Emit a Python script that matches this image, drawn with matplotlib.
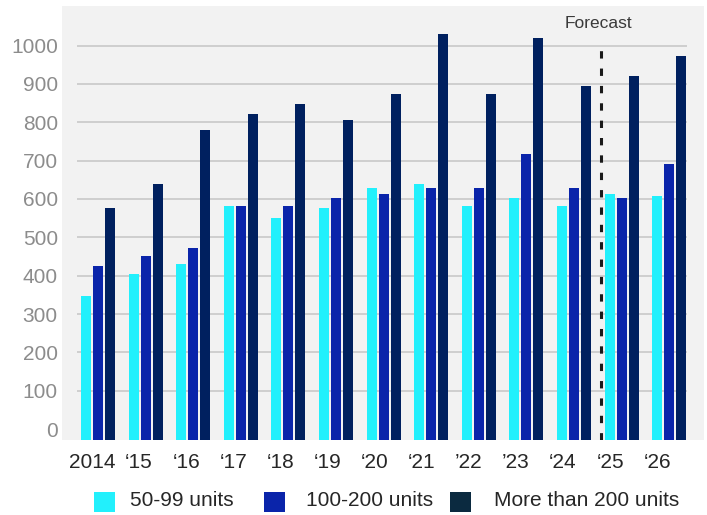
import matplotlib
matplotlib.use("Agg")
import matplotlib.pyplot as plt
from matplotlib.patches import Rectangle
import numpy as np

plt.rcParams['font.family'] = ['Liberation Sans', 'DejaVu Sans']
plt.rcParams['lines.scale_dashes'] = False

# Data
years = ["2014", "\u201815", "\u201816", "\u201817", "\u201818", "\u201819", "\u201820",
         "\u201821", "\u201922", "\u201923", "\u201824", "\u201825", "\u201826"]
units_50_99 = [347, 404, 430, 582, 550, 577, 629, 639, 582, 603, 582, 613, 608]
units_100_200 = [425, 451, 472, 582, 582, 603, 613, 629, 629, 717, 629, 603, 691]
units_200_plus = [577, 639, 780, 822, 848, 806, 874, 1030, 874, 1020, 895, 921, 973]
series_labels = ["50-99 units", "100-200 units", "More than 200 units"]
y_ticks = list(range(0, 1001, 100))

c_cyan = "#22F0FC"
c_blue = "#0A24AA"
c_navy = "#00205F"
c_legend_navy = "#0B2A40"

W, H = 707, 515
fig = plt.figure(figsize=(W / 100, H / 100), dpi=100)
ax = fig.add_axes([62 / W, (H - 440) / H, (704 - 62) / W, (440 - 6) / H])
ax.set_facecolor("#F2F2F2")

y_floor = -28.4
ax.set_ylim(y_floor, 1103)
ax.set_xlim(-0.756, 12.73)

x = np.arange(len(years))
bw = 0.21
off = 0.252
for vals, dx, col in [(units_50_99, -off, c_cyan),
                      (units_100_200, 0.0, c_blue),
                      (units_200_plus, off, c_navy)]:
    v = np.array(vals, dtype=float)
    ax.bar(x + dx, v - y_floor, bottom=y_floor, width=bw, color=col,
           zorder=3, linewidth=0)

# horizontal gridlines
ax.hlines(y_ticks[1:], -0.44, 12.37, colors="#CCCCCC", linewidth=1.3, zorder=1)

# forecast divider
ax.vlines(10.56, y_floor, 1012, colors="#1A1A1A", linewidth=2.2,
          linestyles=(0, (5.3, 7.2)), zorder=4)
ax.text(10.52, 1038, "Forecast", ha="center", va="bottom", fontsize=12.5,
        color="#3A3A3A")

for s in ax.spines.values():
    s.set_visible(False)
ax.set_yticks(y_ticks)
ax.set_yticklabels([str(t) for t in y_ticks], fontsize=15, color="#8C8C8C")
# year labels sit on a slightly tighter pitch than the bar groups
ax.set_xticks(x * 0.9895 - 0.126)
ax.set_xticklabels(years, fontsize=15, color="#262626")
ax.tick_params(axis="y", length=0, pad=3)
ax.tick_params(axis="x", length=0, pad=9)

# legend
legend_items = [(94, c_cyan, 130), (264, c_blue, 306), (450, c_legend_navy, 494)]
for (sx, col, tx), lab in zip(legend_items, series_labels):
    fig.add_artist(Rectangle((sx / W, (H - 512) / H), 21 / W, 20 / H,
                             transform=fig.transFigure, color=col, linewidth=0))
    fig.text(tx / W, (H - 501) / H, lab, fontsize=15, color="#262626",
             ha="left", va="center")

fig.savefig("out.png", dpi=100, facecolor="white")
